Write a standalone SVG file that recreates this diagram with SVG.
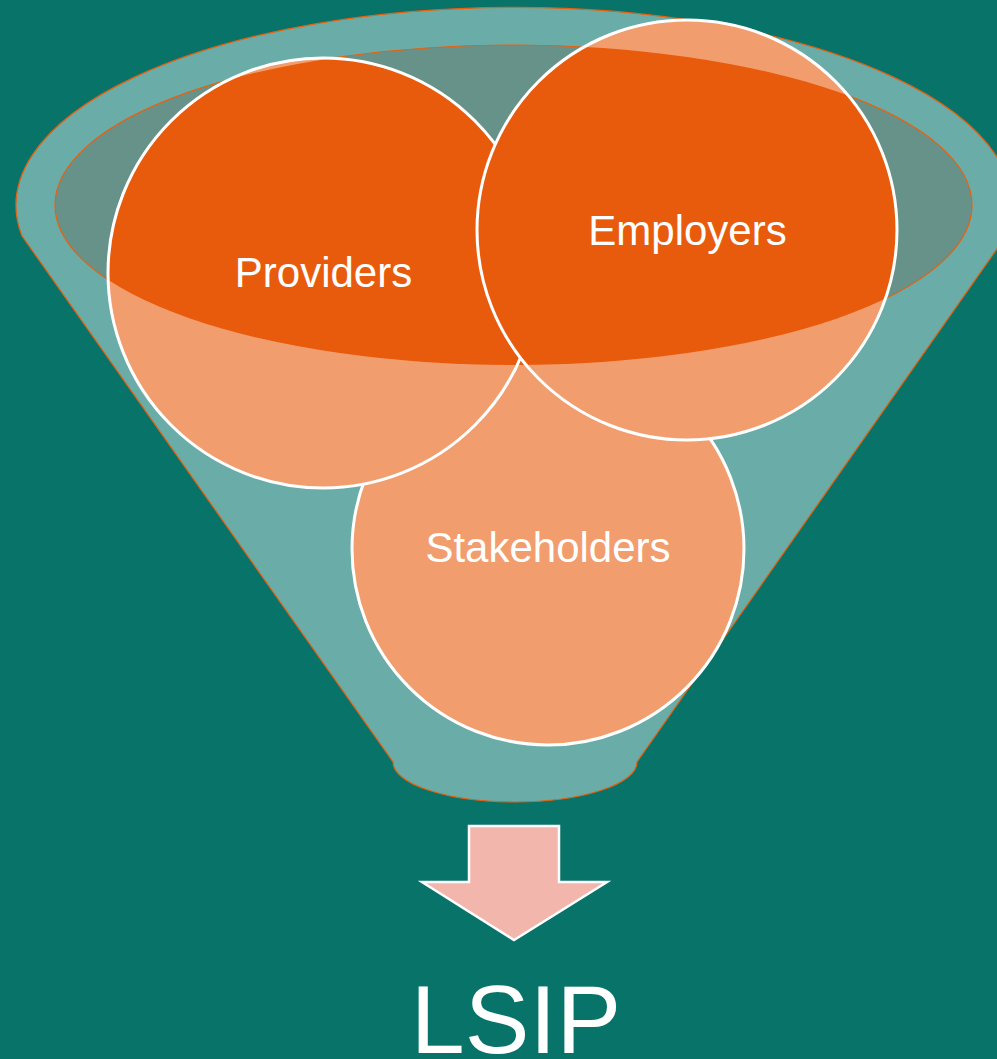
<svg xmlns="http://www.w3.org/2000/svg" width="997" height="1059" viewBox="0 0 997 1059">
<style>
.lbl{font-family:"Liberation Sans",Arial,sans-serif;fill:#ffffff;text-anchor:middle}
.light{fill:#F29D6E}
.dark{fill:#E95B0C}
.ring{fill:none;stroke:#ffffff;stroke-width:3}
</style>
<defs>
<clipPath id="inner"><ellipse cx="513.5" cy="205" rx="458.5" ry="160"/></clipPath>
</defs>
<rect width="997" height="1059" fill="#077369"/>
<g id="funnel">
<path d="M22 236 A498 198 0 1 1 1006 236 L637 762 A122 40 0 0 1 393 762 Z" fill="#6AACA7" stroke="#E9600E" stroke-width="1.2"/>
<ellipse cx="513.5" cy="205" rx="458.5" ry="160" fill="#66928A" stroke="#E9600E" stroke-width="1.2"/>
</g>
<g id="stakeholders">
<circle class="light" cx="548" cy="549" r="196"/>
<circle class="dark" cx="548" cy="549" r="196" clip-path="url(#inner)"/>
<circle class="ring" cx="548" cy="549" r="196"/>
<text class="lbl" x="548" y="562" font-size="42">Stakeholders</text>
</g>
<g id="providers">
<circle class="light" cx="323" cy="273" r="215"/>
<circle class="dark" cx="323" cy="273" r="215" clip-path="url(#inner)"/>
<circle class="ring" cx="323" cy="273" r="215"/>
<text class="lbl" x="323.5" y="287" font-size="42">Providers</text>
</g>
<g id="employers">
<circle class="light" cx="687" cy="230" r="210"/>
<circle class="dark" cx="687" cy="230" r="210" clip-path="url(#inner)"/>
<circle class="ring" cx="687" cy="230" r="210"/>
<text class="lbl" x="687.5" y="245" font-size="42">Employers</text>
</g>
<g id="connectors">
<path d="M469 826 L559 826 L559 882 L607 882 L514 940 L422 882 L469 882 Z" fill="#F2B6AC" stroke="#ffffff" stroke-width="2.5"/>
</g>
<g id="lsip">
<text class="lbl" x="516" y="1053" font-size="97">LSIP</text>
</g>
</svg>
